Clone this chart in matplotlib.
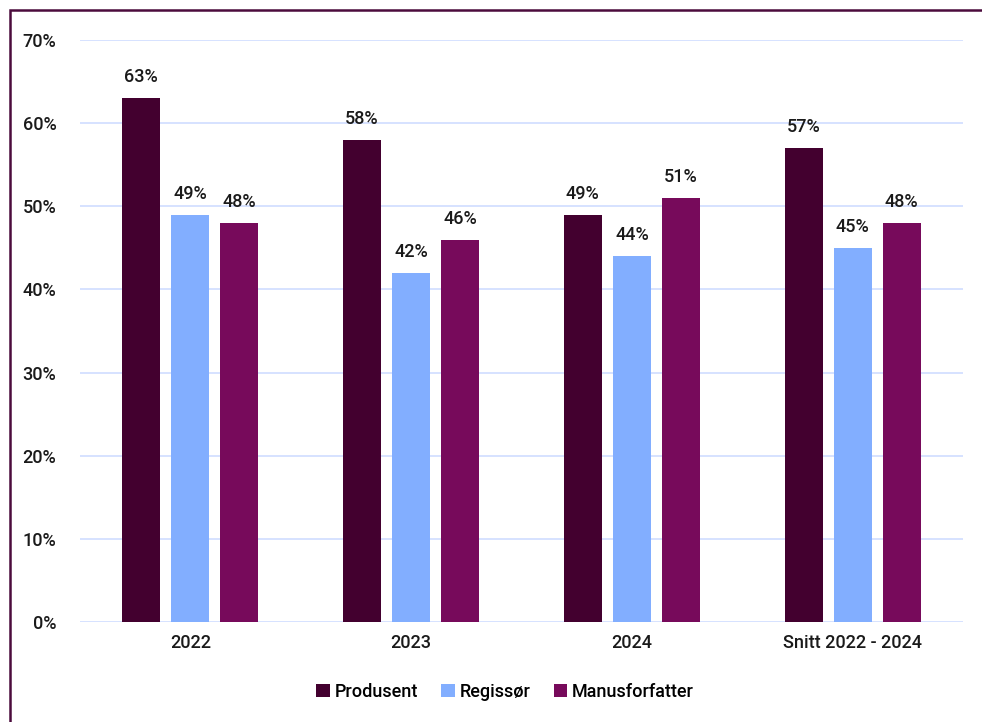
import numpy as np
import matplotlib.pyplot as plt
from matplotlib.patches import Rectangle

plt.rcParams['font.family'] = ['Roboto', 'DejaVu Sans']
plt.rcParams['font.weight'] = 'medium'

categories = ["2022", "2023", "2024", "Snitt 2022 - 2024"]
series = ["Produsent", "Regissør", "Manusforfatter"]
produsent = [0.63, 0.58, 0.49, 0.57]
regissor = [0.49, 0.42, 0.44, 0.45]
manusforfatter = [0.48, 0.46, 0.51, 0.48]

colors = ["#43002F", "#82AEFF", "#770A5B"]
fs = 13

fig = plt.figure(figsize=(9.82, 7.22), dpi=100)
ax = fig.add_axes([80 / 982, 100 / 722, 883 / 982, 582 / 722])

x = np.arange(len(categories))
width = 0.172
step = 0.222
for i, (name, vals) in enumerate(zip(series, [produsent, regissor, manusforfatter])):
    pos = x + (i - 1) * step
    bars = ax.bar(pos, vals, width, color=colors[i], label=name, zorder=3)
    for b, v in zip(bars, vals):
        ax.annotate(f"{v:.0%}", (b.get_x() + b.get_width() / 2, v),
                    xytext=(0, 21), textcoords="offset pixels",
                    ha="center", va="center", fontsize=fs, color="#1a1a1a")

ax.set_xlim(-0.5, len(categories) - 0.5)
ax.set_ylim(0, 0.7)
ax.set_yticks(np.arange(0, 0.71, 0.1))
ax.set_yticklabels([f"{t:.0%}" for t in np.arange(0, 0.71, 0.1)])
ax.set_xticks(x)
ax.set_xticklabels(categories)
ax.tick_params(length=0, labelsize=fs, labelcolor="#1a1a1a")
ax.tick_params(axis="y", pad=17)
ax.tick_params(axis="x", pad=9)
ax.grid(axis="y", color="#D6E2FF", linewidth=1.4, zorder=0)
for s in ax.spines.values():
    s.set_visible(False)

ax.legend(loc="center", bbox_to_anchor=(505 / 982, 30 / 722), bbox_transform=fig.transFigure,
          ncol=3, frameon=False, fontsize=fs, handlelength=0.75, handleheight=0.75,
          handletextpad=0.25, columnspacing=1.3)

fig.patches.append(Rectangle((10 / 982, -0.1), 1.2, (712 / 722) + 0.1,
                             transform=fig.transFigure, fill=False,
                             edgecolor="#4B0B3C", linewidth=1.8))

fig.savefig("out.png", dpi=100)
